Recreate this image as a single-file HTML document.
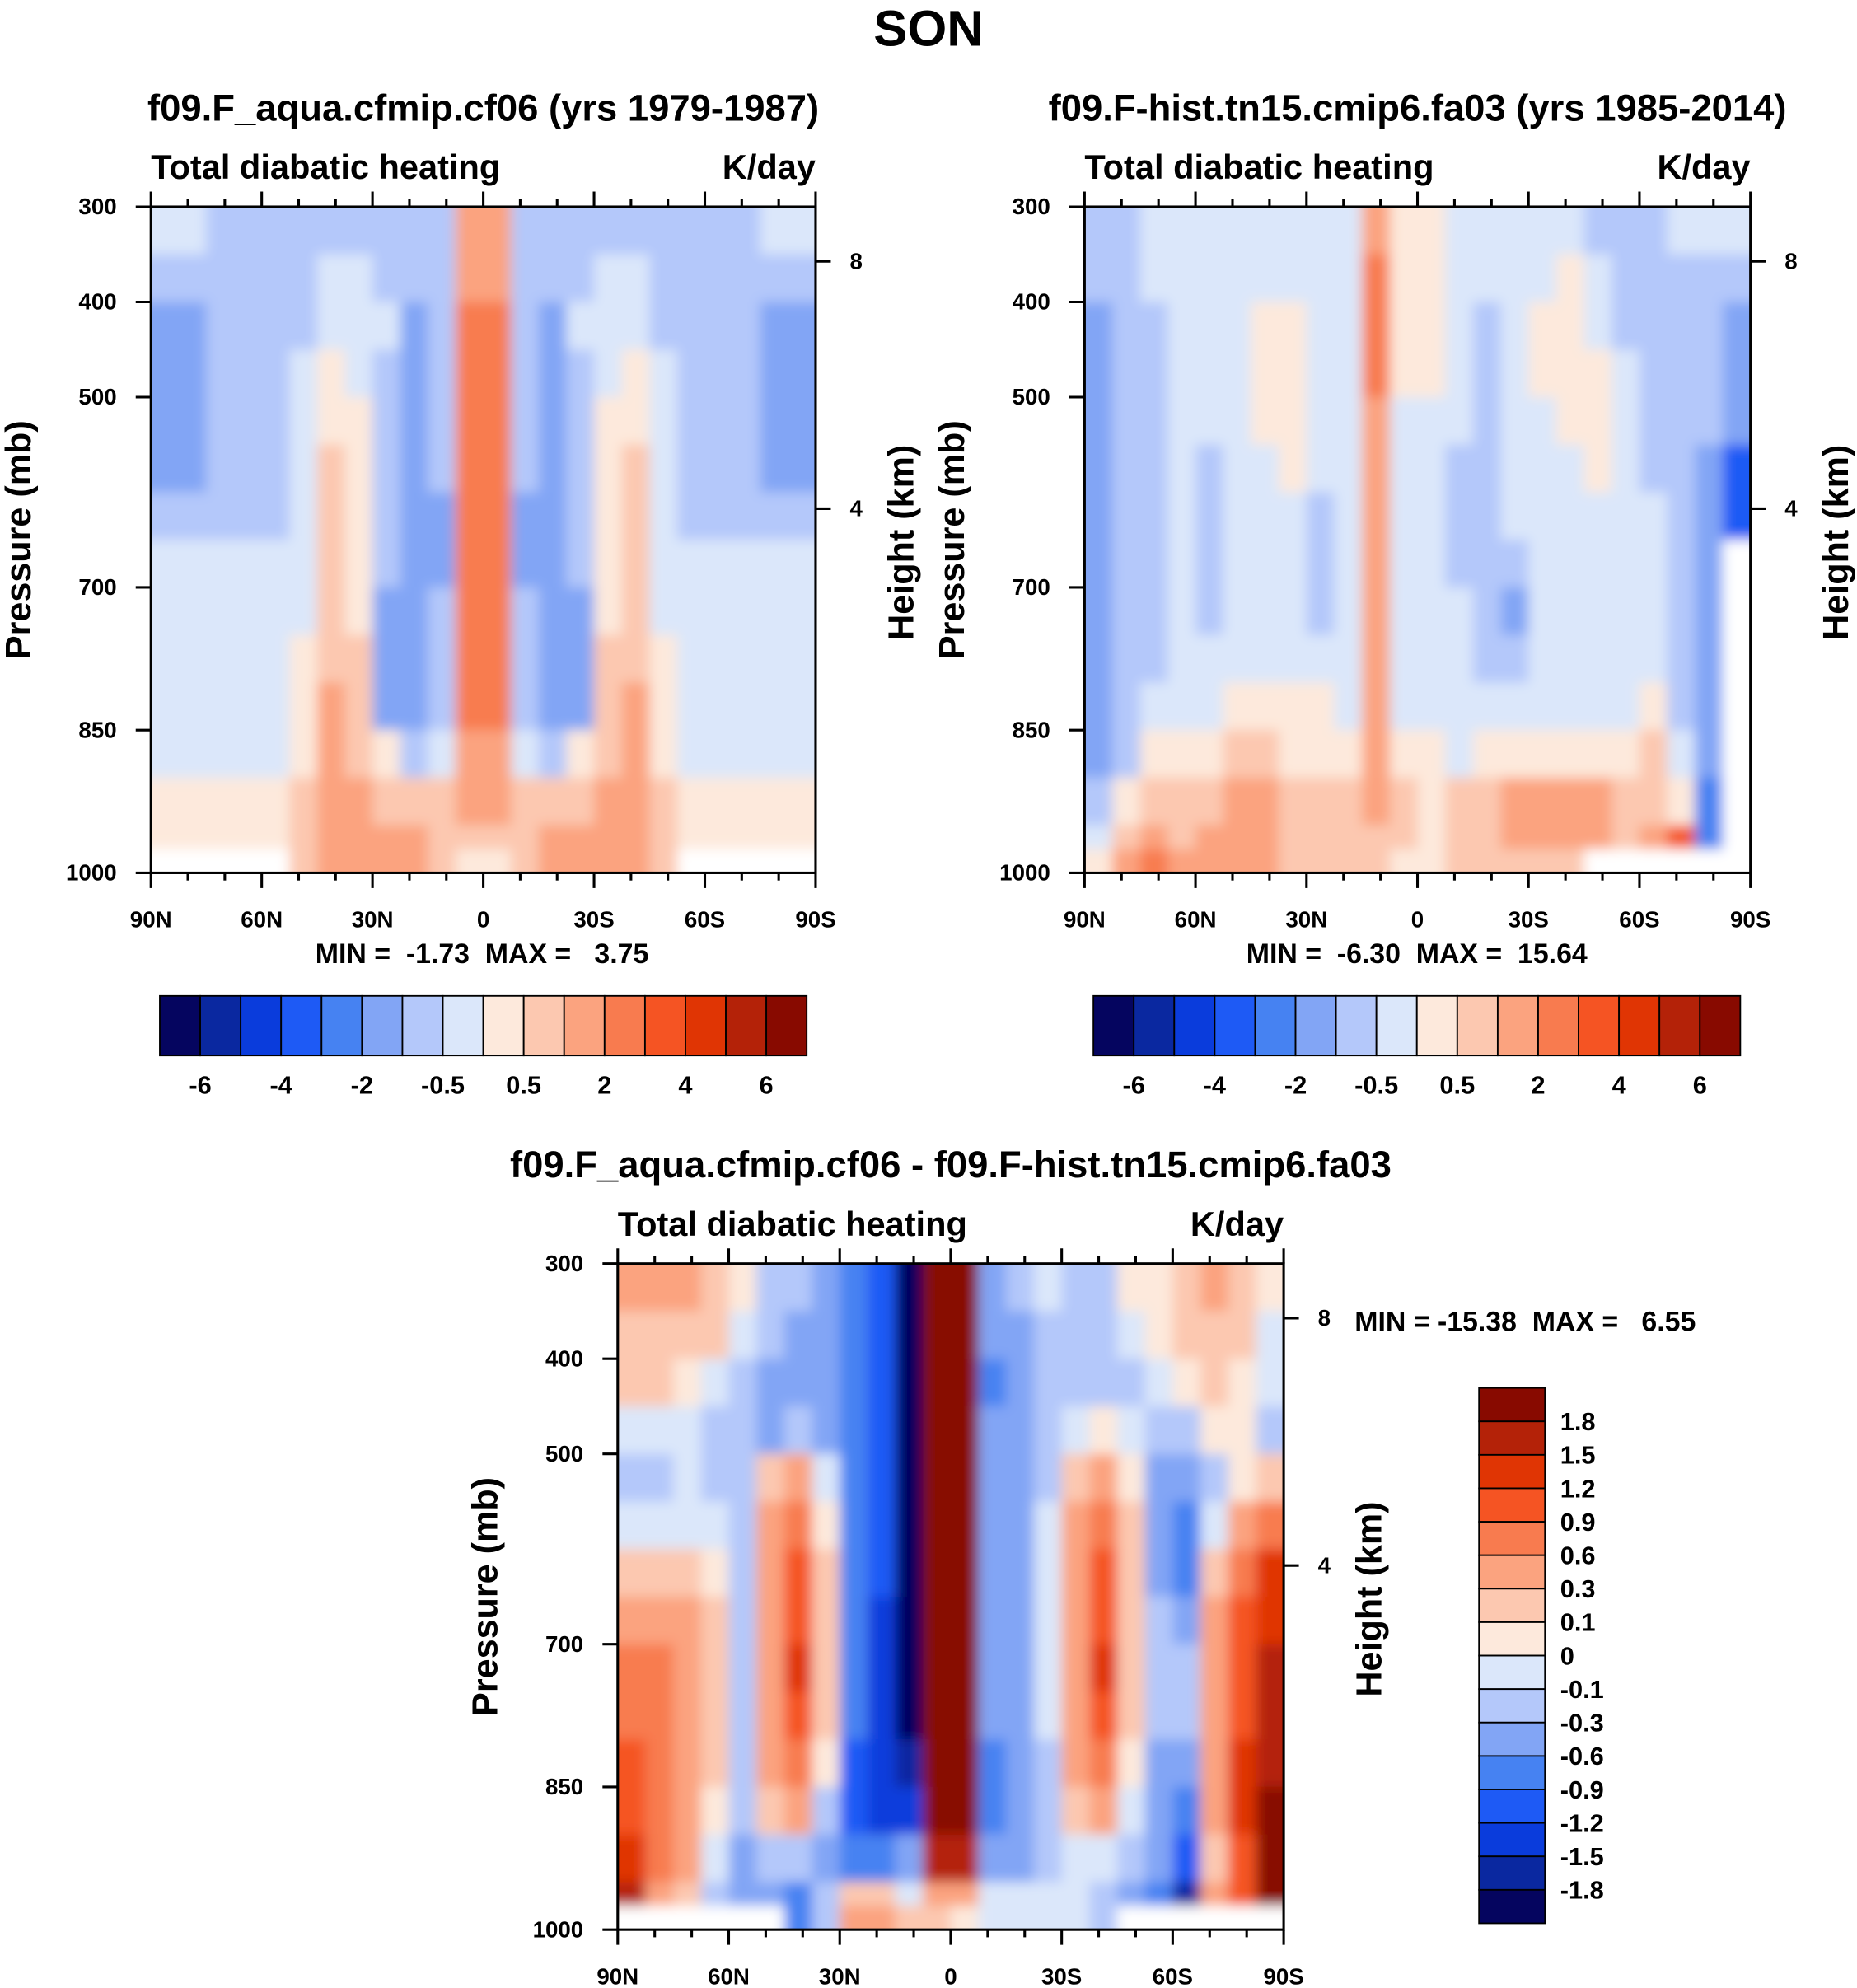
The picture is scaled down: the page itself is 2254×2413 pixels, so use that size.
<!DOCTYPE html>
<html><head><meta charset="utf-8">
<style>
html,body{margin:0;padding:0;background:#fff;}
svg{display:block;font-family:"Liberation Sans",sans-serif;font-weight:bold;}
text{white-space:pre;}
</style></head>
<body>
<svg id="fig" xmlns="http://www.w3.org/2000/svg" width="2254" height="2413" viewBox="0 0 1464 1567" preserveAspectRatio="none">
<defs>
<filter id="soft" x="-5%" y="-5%" width="110%" height="110%"><feGaussianBlur stdDeviation="5"/></filter>
</defs>
<rect x="0" y="0" width="1464" height="1567" fill="#fff"/>
<text x="732" y="36" font-size="40" text-anchor="middle">SON</text>
<g id="layer"></g>
</svg>
<script>
// ---- data ----
const pressureEdges=[300,350,400,450,500,550,600,650,700,750,800,850,900,950,975,1000];
const latEdges=[90,82.5,75,67.5,60,52.5,45,37.5,30,22.5,15,7.5,0,-7.5,-15,-22.5,-30,-37.5,-45,-52.5,-60,-67.5,-75,-82.5,-90];
const xTickLabels=["90N","60N","30N","0","30S","60S","90S"];
const xTickLats=[90,60,30,0,-30,-60,-90];
const yTickLabels=[300,400,500,700,850,1000];
const heightTickLabels=["8","4"];
const heightTickP=[357.3,617.3];
const boundsAbs=[-6,-5,-4,-3,-2,-1,-0.5,0,0.5,1,2,3,4,5,6];
const boundsAbsLabels=["-6","-4","-2","-0.5","0.5","2","4","6"];
const boundsDiff=[-1.8,-1.5,-1.2,-0.9,-0.6,-0.3,-0.1,0,0.1,0.3,0.6,0.9,1.2,1.5,1.8];
const boundsDiffLabels=["1.8","1.5","1.2","0.9","0.6","0.3","0.1","0","-0.1","-0.3","-0.6","-0.9","-1.2","-1.5","-1.8"];
const palette=["#05055f","#0a28a0","#0a3cdc","#1e5af5","#4682f2","#82a5f5","#b4c8fa","#dbe7fa","#fde9dc","#fcc8b0","#fba37f","#f87b4f","#f55423","#e03504","#b42208","#880a00"];
const half1=[
[-0.3,-0.3,-0.7,-0.7,-0.7,-0.7,-0.7,-0.7,-0.7,-0.7,-0.7,1.5],
[-0.7,-0.7,-0.7,-0.7,-0.7,-0.7,-0.3,-0.3,-0.7,-0.7,-0.7,1.5],
[-1.5,-1.5,-0.7,-0.7,-0.7,-0.7,-0.3,-0.3,-0.3,-1.5,-0.7,2.5],
[-1.5,-1.5,-0.7,-0.7,-0.7,-0.3,0.3,-0.3,-0.7,-1.5,-0.7,2.5],
[-1.5,-1.5,-0.7,-0.7,-0.7,-0.3,0.3,0.3,-0.7,-1.5,-0.7,2.5],
[-1.5,-1.5,-0.7,-0.7,-0.7,-0.3,0.7,0.3,-0.7,-1.5,-0.7,2.5],
[-0.7,-0.7,-0.7,-0.7,-0.7,-0.3,0.7,0.3,-0.7,-1.5,-1.5,2.5],
[-0.3,-0.3,-0.3,-0.3,-0.3,-0.3,0.7,0.3,-0.7,-1.5,-1.5,2.5],
[-0.3,-0.3,-0.3,-0.3,-0.3,-0.3,0.7,0.3,-1.5,-1.5,-0.7,2.5],
[-0.3,-0.3,-0.3,-0.3,-0.3,0.3,0.7,0.7,-1.5,-1.5,-0.7,2.5],
[-0.3,-0.3,-0.3,-0.3,-0.3,0.3,1.5,0.7,-1.5,-1.5,-0.7,2.5],
[-0.3,-0.3,-0.3,-0.3,-0.3,0.3,1.5,0.7,0.3,-0.7,-0.3,1.5],
[0.3,0.3,0.3,0.3,0.3,0.7,1.5,1.5,0.7,0.7,0.7,1.5],
[0.3,0.3,0.3,0.3,0.3,0.7,1.5,1.5,1.5,1.5,0.7,0.7],
[null,null,null,null,null,0.7,1.5,1.5,1.5,1.5,0.7,0.3]];
const field1=half1.map(r=>r.concat(r.slice().reverse()));
const field2=[
[-0.7,-0.7,-0.3,-0.3,-0.3,-0.3,-0.3,-0.3,-0.3,-0.3,1.5,0.3,0.3,-0.3,-0.3,-0.3,-0.3,-0.3,-0.7,-0.7,-0.7,-0.3,-0.3,-0.3],
[-0.7,-0.7,-0.3,-0.3,-0.3,-0.3,-0.3,-0.3,-0.3,-0.3,2.5,0.3,0.3,-0.3,-0.3,-0.3,-0.3,0.3,-0.3,-0.7,-0.7,-0.7,-0.7,-0.7],
[-1.5,-0.7,-0.7,-0.3,-0.3,-0.3,0.3,0.3,-0.3,-0.3,2.5,0.3,0.3,-0.3,-0.7,-0.3,0.3,0.3,-0.3,-0.7,-0.7,-0.7,-0.7,-1.5],
[-1.5,-0.7,-0.7,-0.3,-0.3,-0.3,0.3,0.3,-0.3,-0.3,2.5,0.3,0.3,-0.3,-0.7,-0.3,0.3,0.3,0.3,-0.3,-0.7,-0.7,-0.7,-1.5],
[-1.5,-0.7,-0.7,-0.3,-0.3,-0.3,0.3,0.3,-0.3,-0.3,1.5,-0.3,-0.3,-0.3,-0.7,-0.3,-0.3,0.3,0.3,-0.3,-0.7,-0.7,-0.7,-1.5],
[-1.5,-0.7,-0.7,-0.3,-0.7,-0.3,-0.3,0.3,-0.3,-0.3,1.5,-0.3,-0.3,-0.7,-0.7,-0.3,-0.3,-0.3,0.3,-0.3,-0.7,-0.7,-1.5,-3.5],
[-1.5,-0.7,-0.7,-0.3,-0.7,-0.3,-0.3,-0.3,-0.7,-0.3,1.5,-0.3,-0.3,-0.7,-0.7,-0.3,-0.3,-0.3,-0.3,-0.3,-0.3,-0.7,-1.5,-3.5],
[-1.5,-0.7,-0.7,-0.3,-0.7,-0.3,-0.3,-0.3,-0.7,-0.3,1.5,-0.3,-0.3,-0.7,-0.7,-0.7,-0.3,-0.3,-0.3,-0.3,-0.3,-0.7,-1.5,null],
[-1.5,-0.7,-0.7,-0.3,-0.7,-0.3,-0.3,-0.3,-0.7,-0.3,1.5,-0.3,-0.3,-0.3,-0.7,-1.5,-0.3,-0.3,-0.3,-0.3,-0.3,-0.7,-1.5,null],
[-1.5,-0.7,-0.7,-0.3,-0.3,-0.3,-0.3,-0.3,-0.3,-0.3,1.5,-0.3,-0.3,-0.3,-0.7,-0.7,-0.3,-0.3,-0.3,-0.3,-0.3,-0.7,-1.5,null],
[-1.5,-0.7,-0.3,-0.3,-0.3,0.3,0.3,0.3,0.3,-0.3,1.5,-0.3,-0.3,-0.3,-0.3,-0.3,-0.3,-0.3,-0.3,-0.3,0.3,-0.7,-1.5,null],
[-1.5,-0.7,0.3,0.3,0.3,0.7,0.7,0.3,0.3,0.3,1.5,0.3,0.3,-0.3,0.3,0.3,0.3,0.3,0.3,0.3,0.7,-0.3,-1.5,null],
[-0.7,0.3,0.7,0.7,0.7,1.5,1.5,0.7,0.7,0.7,1.5,0.7,0.3,0.7,0.7,1.5,1.5,1.5,1.5,0.7,0.7,0.3,-2.5,null],
[-0.3,0.7,1.5,0.7,1.5,1.5,1.5,0.7,0.7,0.7,0.7,0.7,0.3,0.7,0.7,1.5,1.5,1.5,1.5,0.7,1.5,3.5,-2.5,null],
[0.3,1.5,2.5,1.5,1.5,1.5,1.5,0.7,0.7,0.7,0.7,0.3,0.3,0.7,0.7,0.7,0.7,0.7,null,null,null,null,null,null]];
const field3=[
[0.45,0.45,0.45,0.2,0.05,-0.2,-0.2,-0.4,-0.7,-1.0,-1.9,2.0,2.0,-0.4,-0.2,-0.05,-0.2,-0.2,0.05,0.05,0.2,0.45,0.2,0.05],
[0.2,0.2,0.2,0.2,-0.05,-0.2,-0.4,-0.4,-0.7,-1.0,-1.9,2.0,2.0,-0.4,-0.4,-0.2,-0.2,-0.2,-0.05,0.05,0.2,0.2,0.2,-0.05],
[0.2,0.2,0.05,-0.05,-0.2,-0.4,-0.4,-0.4,-0.7,-1.0,-1.9,2.0,2.0,-0.7,-0.4,-0.2,-0.2,-0.2,-0.2,-0.05,0.05,0.2,0.05,-0.05],
[-0.05,-0.05,-0.05,-0.2,-0.2,-0.4,-0.2,-0.4,-0.7,-1.0,-1.9,2.0,2.0,-0.4,-0.4,-0.2,-0.05,0.05,-0.05,-0.2,-0.2,0.05,0.05,-0.2],
[-0.2,-0.2,-0.05,-0.2,-0.2,0.2,0.45,-0.05,-0.7,-1.0,-1.9,2.0,2.0,-0.4,-0.4,-0.2,0.2,0.45,0.05,-0.4,-0.4,-0.2,0.05,0.2],
[-0.05,-0.05,-0.05,-0.05,-0.2,0.45,0.75,0.05,-0.7,-1.0,-1.9,2.0,2.0,-0.4,-0.4,-0.05,0.45,0.75,0.2,-0.4,-0.7,-0.05,0.45,0.75],
[0.2,0.2,0.2,0.05,-0.2,0.45,1.0,0.2,-0.7,-1.0,-1.9,2.0,2.0,-0.4,-0.4,-0.05,0.45,1.0,0.2,-0.4,-0.7,0.2,0.75,1.3],
[0.45,0.45,0.45,0.2,-0.2,0.45,1.0,0.2,-0.7,-1.3,-1.9,2.0,2.0,-0.4,-0.4,-0.05,0.45,1.0,0.2,-0.2,-0.4,0.45,1.0,1.3],
[0.75,0.75,0.45,0.2,-0.2,0.45,1.3,0.2,-0.7,-1.3,-1.9,2.0,2.0,-0.4,-0.4,-0.05,0.45,1.3,0.2,-0.2,-0.2,0.45,1.0,1.6],
[0.75,0.75,0.45,0.2,-0.2,0.45,1.0,0.2,-0.7,-1.3,-1.9,2.0,2.0,-0.4,-0.4,-0.05,0.45,1.0,0.2,-0.2,-0.2,0.45,1.0,1.6],
[1.0,0.75,0.45,0.2,-0.2,0.45,0.75,0.05,-1.0,-1.3,-1.6,2.0,2.0,-0.7,-0.4,-0.2,0.45,0.75,0.05,-0.4,-0.4,0.45,1.3,1.6],
[1.0,0.75,0.45,0.05,-0.2,0.2,0.45,-0.2,-1.0,-1.3,-1.3,2.0,2.0,-0.7,-0.4,-0.2,0.2,0.45,-0.05,-0.4,-0.7,0.45,1.3,1.9],
[1.3,0.75,0.45,-0.05,-0.4,-0.2,-0.2,-0.4,-0.7,-0.7,-0.4,1.6,1.6,-0.4,-0.4,-0.2,-0.05,-0.05,-0.2,-0.4,-1.0,0.2,1.0,1.9],
[1.6,0.45,0.2,-0.2,-0.4,-0.4,-0.7,-0.2,0.2,0.2,-0.05,0.45,0.45,-0.05,-0.05,-0.05,-0.05,-0.2,-0.4,-0.7,-1.6,0.45,1.0,1.9],
[null,null,null,null,null,null,-0.7,-0.2,0.45,0.45,0.2,0.2,0.05,-0.05,-0.05,-0.05,-0.05,-0.2,null,null,null,null,null,null]];

const NS="http://www.w3.org/2000/svg";
const layer=document.getElementById('layer');
const defs=document.querySelector('defs');
function mk(tag,attrs,parent,txt){const e=document.createElementNS(NS,tag);for(const k in attrs)e.setAttribute(k,attrs[k]);if(txt!==undefined)e.textContent=txt;(parent||layer).appendChild(e);return e;}
function colorFor(v,b){let i=0;while(i<b.length&&v>=b[i])i++;return palette[i];}
let clipN=0;
function panel(cfg){
  const {x0,y0,w,h,field,bounds,title,name}=cfg;
  const g=mk('g',{});
  
  
  const xs=lat=>x0+(90-lat)/180*w;
  const ys=p=>y0+(p-300)/700*h;
  const cid='clip'+(clipN++);
  const cp=mk('clipPath',{id:cid},defs);
  mk('rect',{x:x0,y:y0,width:w,height:h},cp);
  const cg=mk('g',{'clip-path':`url(#${cid})`},g);
  const fg=mk('g',{filter:'url(#soft)'},cg);
  for(let r=0;r<field.length;r++){
    for(let c=0;c<field[r].length;c++){
      const v=field[r][c];
      let xa=xs(latEdges[c]),xb=xs(latEdges[c+1]),ya=ys(pressureEdges[r]),yb=ys(pressureEdges[r+1]);
      // extend edge cells so blur doesn't fade into white at the frame
      if(c===0)xa-=12; if(c===field[r].length-1)xb+=12; if(r===0)ya-=12;
      if(r===field.length-1)yb+=12;
      const cell=mk('rect',{x:xa,y:ya,width:xb-xa+0.6,height:yb-ya+0.6,fill:v===null?'#ffffff':colorFor(v,bounds)},fg);
      
      
    }
  }
  const fr=mk('rect',{x:x0,y:y0,width:w,height:h,fill:'none',stroke:'#000','stroke-width':2},g);
  
  
  for(let lat=90;lat>=-90;lat-=10){
    const x=xs(lat), major=(lat%30===0);
    const L=major?12:6;
    mk('line',{x1:x,x2:x,y1:y0,y2:y0-L,stroke:'#000','stroke-width':2},g);
    mk('line',{x1:x,x2:x,y1:y0+h,y2:y0+h+L,stroke:'#000','stroke-width':2},g);
  }
  xTickLats.forEach((lat,i)=>{
    const t=mk('text',{x:xs(lat),y:y0+h+43,'font-size':18,'text-anchor':'middle'},g,xTickLabels[i]);
    
    
  });
  yTickLabels.forEach(p=>{
    const y=ys(p);
    mk('line',{x1:x0,x2:x0-12,y1:y,y2:y,stroke:'#000','stroke-width':2},g);
    const t=mk('text',{x:x0-27,y:y+6,'font-size':18,'text-anchor':'end'},g,String(p));
    
    
  });
  heightTickP.forEach((p,i)=>{
    const y=ys(p);
    mk('line',{x1:x0+w,x2:x0+w+12,y1:y,y2:y,stroke:'#000','stroke-width':2},g);
    const t=mk('text',{x:x0+w+27,y:y+6,'font-size':18},g,heightTickLabels[i]);
    
    
  });
  const t1=mk('text',{x:x0+w/2,y:y0-68,'font-size':29.5,'text-anchor':'middle'},g,title);
  
  
  const t2=mk('text',{x:x0,y:y0-22,'font-size':27},g,'Total diabatic heating');
  
  
  const t3=mk('text',{x:x0+w,y:y0-22,'font-size':27,'text-anchor':'end'},g,'K/day');
  
  
  const yl=mk('text',{x:0,y:0,'font-size':28,'text-anchor':'middle',transform:`translate(${x0-95},${y0+h/2}) rotate(-90)`},g,'Pressure (mb)');
  
  
  const hl=mk('text',{x:0,y:0,'font-size':28,'text-anchor':'middle',transform:`translate(${x0+w+77},${y0+h/2+2}) rotate(-90)`},g,'Height (km)');
  
  
}

function hbar(x0,y0,w,h,name){
  const g=mk('g',{});
  
  
  const bw=w/16;
  palette.forEach((c,i)=>{
    const r=mk('rect',{x:x0+i*bw,y:y0,width:bw,height:h,fill:c,stroke:'#000','stroke-width':1.2},g);
    
    
  });
  boundsAbsLabels.forEach((lab,j)=>{
    const t=mk('text',{x:x0+(2*j+1)*bw,y:y0+h+30,'font-size':20,'text-anchor':'middle'},g,lab);
    
    
  });
}
function vbar(x0,y0,w,h,name){
  const g=mk('g',{});
  
  
  const bh=h/16;
  palette.slice().reverse().forEach((c,i)=>{
    const r=mk('rect',{x:x0,y:y0+i*bh,width:w,height:bh,fill:c,stroke:'#000','stroke-width':1.2},g);
    
    
  });
  boundsDiffLabels.forEach((lab,j)=>{
    const t=mk('text',{x:x0+w+12,y:y0+(j+1)*bh+7,'font-size':20},g,lab);
    
    
  });
}

panel({x0:119,y0:163,w:524,h:525,field:field1,bounds:boundsAbs,title:'f09.F_aqua.cfmip.cf06 (yrs 1979-1987)',name:'panel-cf06'});
panel({x0:855,y0:163,w:525,h:525,field:field2,bounds:boundsAbs,title:'f09.F-hist.tn15.cmip6.fa03 (yrs 1985-2014)',name:'panel-fa03'});
panel({x0:487,y0:996,w:525,h:525,field:field3,bounds:boundsDiff,title:'f09.F_aqua.cfmip.cf06 - f09.F-hist.tn15.cmip6.fa03',name:'panel-difference'});
hbar(126,785,510,47,'colorbar-cf06');
hbar(862,785,510,47,'colorbar-fa03');
vbar(1166,1094,52,422,'colorbar-difference');

let m=mk('text',{x:380,y:759,'font-size':22,'text-anchor':'middle'},layer,'MIN =  -1.73  MAX =   3.75');


m=mk('text',{x:1117,y:759,'font-size':22,'text-anchor':'middle'},layer,'MIN =  -6.30  MAX =  15.64');


m=mk('text',{x:1068,y:1049,'font-size':22},layer,'MIN = -15.38  MAX =   6.55');


</script>
</body></html>
